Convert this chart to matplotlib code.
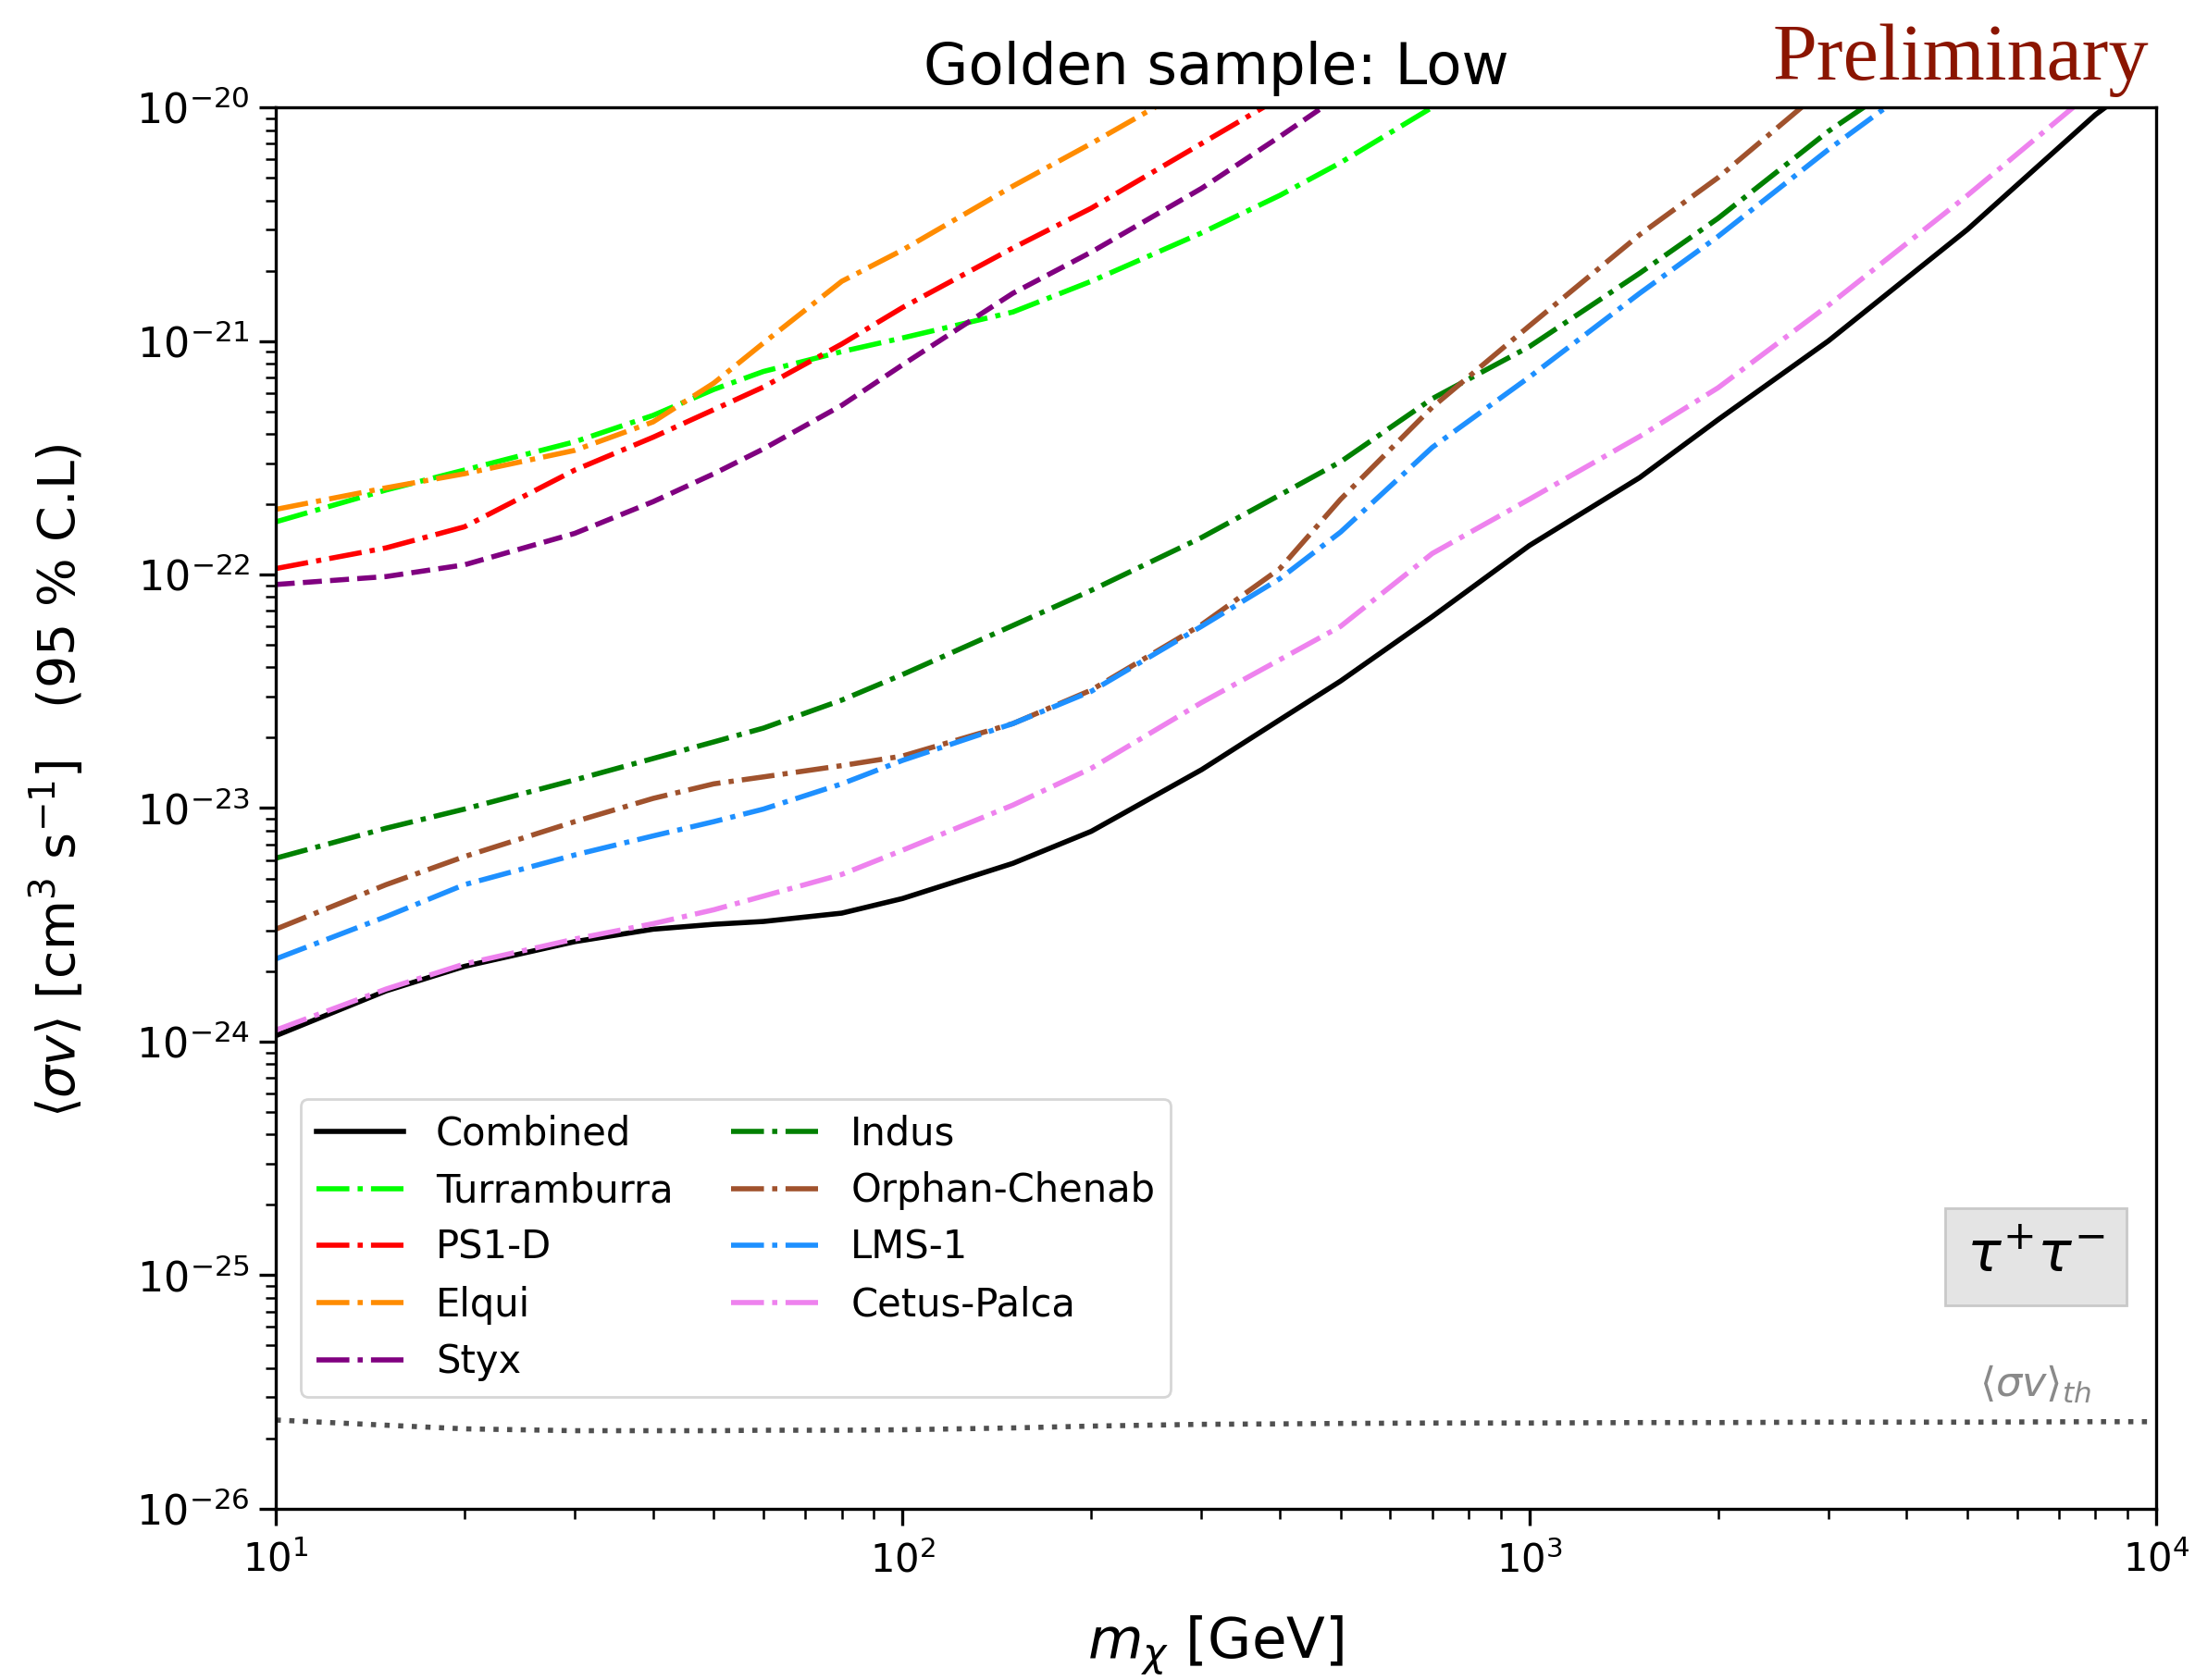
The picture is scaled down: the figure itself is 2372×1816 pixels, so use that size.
import matplotlib
matplotlib.use("Agg")
import matplotlib.pyplot as plt
from matplotlib.lines import Line2D

# dark matter mass grid [GeV]
mass = [10, 15, 20, 30, 40, 50, 60, 80, 100, 150, 200, 300, 400, 500,
        700, 1000, 1500, 2000, 3000, 5000, 8000, 10000]

# upper limits on <sigma v> (cm^3 s^-1), 95% C.L., tau+ tau- channel
combined = [1.06e-24, 1.65e-24, 2.1e-24, 2.68e-24, 3.03e-24, 3.18e-24, 3.27e-24,
            3.55e-24, 4.1e-24, 5.8e-24, 7.95e-24, 1.46e-23, 2.39e-23, 3.5e-23,
            6.6e-23, 1.33e-22, 2.6e-22, 4.6e-22, 1.0e-21, 3.0e-21, 9.3e-21, 1.45e-20]
turramburra = [1.68e-22, 2.3e-22, 2.8e-22, 3.7e-22, 4.8e-22, 6.2e-22, 7.4e-22,
               9.0e-22, 1.03e-21, 1.33e-21, 1.8e-21, 2.9e-21, 4.2e-21, 5.8e-21,
               1.0e-20, 1.6e-20]
ps1d = [1.06e-22, 1.3e-22, 1.6e-22, 2.8e-22, 3.87e-22, 5.08e-22, 6.35e-22,
        9.7e-22, 1.39e-21, 2.5e-21, 3.7e-21, 7.0e-21, 1.1e-20]
elqui = [1.9e-22, 2.35e-22, 2.7e-22, 3.4e-22, 4.5e-22, 6.6e-22, 9.8e-22,
         1.8e-21, 2.45e-21, 4.6e-21, 7.0e-21, 1.3e-20]
styx = [9.06e-23, 9.8e-23, 1.1e-22, 1.5e-22, 2.05e-22, 2.7e-22, 3.45e-22,
        5.3e-22, 7.9e-22, 1.6e-21, 2.4e-21, 4.5e-21, 7.5e-21, 1.13e-20]
indus = [6.1e-24, 8.2e-24, 9.9e-24, 1.32e-23, 1.63e-23, 1.92e-23, 2.2e-23,
         2.9e-23, 3.73e-23, 6.05e-23, 8.55e-23, 1.44e-22, 2.19e-22, 3.04e-22,
         5.66e-22, 9.45e-22, 1.95e-21, 3.35e-21, 7.9e-21, 2.0e-20]
orphan = [3.03e-24, 4.7e-24, 6.2e-24, 8.75e-24, 1.1e-23, 1.27e-23, 1.36e-23,
          1.52e-23, 1.67e-23, 2.3e-23, 3.2e-23, 6.1e-23, 1.06e-22, 2.1e-22,
          5.2e-22, 1.16e-21, 2.85e-21, 5.0e-21, 1.25e-20]
lms1 = [2.26e-24, 3.43e-24, 4.7e-24, 6.3e-24, 7.6e-24, 8.75e-24, 9.9e-24,
        1.27e-23, 1.6e-23, 2.3e-23, 3.16e-23, 6.0e-23, 9.6e-23, 1.52e-22,
        3.5e-22, 7.0e-22, 1.6e-21, 2.8e-21, 6.6e-21, 1.8e-20]
cetus = [1.12e-24, 1.68e-24, 2.15e-24, 2.75e-24, 3.2e-24, 3.67e-24, 4.2e-24,
         5.2e-24, 6.6e-24, 1.03e-23, 1.48e-23, 2.83e-23, 4.32e-23, 6.0e-23,
         1.23e-22, 2.1e-22, 3.9e-22, 6.3e-22, 1.42e-21, 4.2e-21, 1.2e-20]
thermal = [2.4e-26, 2.28e-26, 2.2e-26, 2.16e-26, 2.16e-26, 2.16e-26, 2.17e-26,
           2.17e-26, 2.18e-26, 2.22e-26, 2.26e-26, 2.3e-26, 2.31e-26, 2.32e-26,
           2.33e-26, 2.33e-26, 2.34e-26, 2.34e-26, 2.35e-26, 2.35e-26, 2.36e-26, 2.36e-26]

x_major = [1e1, 1e2, 1e3, 1e4]
y_major = [1e-26, 1e-25, 1e-24, 1e-23, 1e-22, 1e-21, 1e-20]

streams = [
    ("Combined", combined, "black", "-"),
    ("Turramburra", turramburra, "lime", "-."),
    ("PS1-D", ps1d, "red", "-."),
    ("Elqui", elqui, "darkorange", "-."),
    ("Styx", styx, "purple", "--"),
    ("Indus", indus, "green", "-."),
    ("Orphan-Chenab", orphan, "sienna", "-."),
    ("LMS-1", lms1, "dodgerblue", "-."),
    ("Cetus-Palca", cetus, "violet", "-."),
]

plt.rcParams['font.family'] = 'DejaVu Sans'

fig = plt.figure(figsize=(11.86, 9.08), dpi=200)
ax = fig.add_axes([0.1256, 0.1019, 0.8567, 0.8342])

handles = []
for name, vals, col, ls in streams:
    ax.plot(mass[:len(vals)], vals, color=col, linestyle=ls, lw=2.0)
    # legend shows all the single streams dash-dotted
    hls = "-" if name == "Combined" else "-."
    handles.append(Line2D([], [], color=col, linestyle=hls, lw=2.0, label=name))

ax.plot(mass, thermal, color='#505050', linestyle=':', lw=2.0)
ax.text(0.966, 0.08, r'$\langle\sigma v\rangle_{th}$', transform=ax.transAxes,
        ha='right', va='baseline', fontsize=16, color='#8a8a8a')

ax.set_xscale('log')
ax.set_yscale('log')
ax.set_xticks(x_major)
ax.set_yticks(y_major)
ax.set_xlim(10, 1e4)
ax.set_ylim(1e-26, 1e-20)

ax.tick_params(which='major', length=6.5, width=1.2)
ax.tick_params(which='minor', length=3.8, width=0.9)
ax.tick_params(axis='x', labelsize=15, pad=6)
ax.tick_params(axis='y', labelsize=16)
for sp in ax.spines.values():
    sp.set_linewidth(1.2)

ax.set_xlabel(r'$m_\chi$ [GeV]', fontsize=22)
ax.xaxis.set_label_coords(0.5, -0.075)
ax.xaxis.label.set_va('top')
ax.set_ylabel(r'$\langle\sigma v\rangle$ [cm$^3$ s$^{-1}$]   (95 % C.L)', fontsize=20)
ax.yaxis.set_label_coords(-0.1004, 0.52)
ax.set_title('Golden sample: Low', fontsize=22.5, pad=9)

ax.legend(handles=handles, ncol=2, loc='lower left', bbox_to_anchor=(0.0134, 0.080),
          borderaxespad=0, fontsize=15, handlelength=2.25, handletextpad=0.85,
          columnspacing=1.5, labelspacing=0.47)

ax.text(0.936, 0.18, r'$\tau^{+}\tau^{-}$', transform=ax.transAxes, ha='center',
        va='center', fontsize=22,
        bbox=dict(boxstyle='square,pad=0.38', fc='#e4e4e4', ec='#c9c9c9'))

fig.text(0.979, 0.9526, 'Preliminary', ha='right', va='baseline', fontsize=31,
         family='Liberation Serif', color='#8b1500')

fig.savefig('out.png', dpi=200)
